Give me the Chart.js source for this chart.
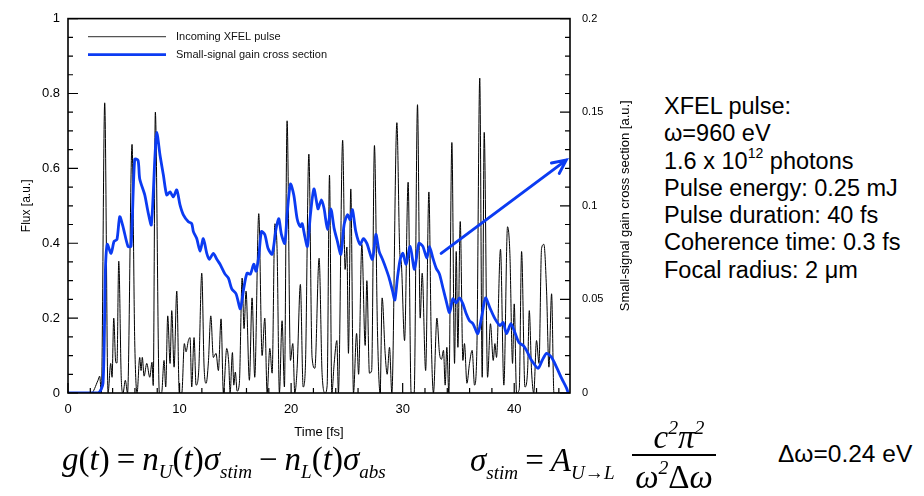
<!DOCTYPE html>
<html>
<head>
<meta charset="utf-8">
<script src="https://cdn.jsdelivr.net/npm/chart.js@4/dist/chart.umd.min.js"></script>
<style>
  body { margin: 0; background: #fff; width: 924px; height: 496px; position: relative; overflow: hidden;
         font-family: "Liberation Sans", Arial, sans-serif; color: #000; }
  #wrap { position: absolute; left: 0; top: 0; width: 650px; height: 445px; }
  .info { position: absolute; left: 664px; top: 93px; font-size: 23.5px; line-height: 27.3px; white-space: nowrap; }
  .info sup { font-size: 0.6em; line-height: 0; position: relative; top: -0.1em; }
  .eq { position: absolute; font-family: "Liberation Serif", "Times New Roman", serif; font-style: italic;
        white-space: nowrap; font-size: 33px; line-height: 33px; }
  .eq .up { font-style: normal; }
  .eq sub { font-size: 0.58em; line-height: 0; vertical-align: -0.4em; }
  .eq sup { font-size: 0.6em; line-height: 0; vertical-align: 0.7em; }
  .eq .op { font-style: normal; margin: 0 7px; }
  .bar { position: absolute; left: 632px; top: 454px; width: 84px; height: 1.6px; background: #000; }
  .dw { position: absolute; left: 778px; top: 440px; font-size: 24.5px; }
</style>
</head>
<body>
<div id="wrap"><canvas id="gainChart"></canvas></div>

<div class="info">
  XFEL pulse:<br>
  ω=960 eV<br>
  1.6 x 10<sup>12</sup> photons<br>
  Pulse energy: 0.25 mJ<br>
  Pulse duration: 40 fs<br>
  Coherence time: 0.3 fs<br>
  Focal radius: 2 μm
</div>

<div class="eq" style="left:62px; top:443px;">g<span class="up">(</span>t<span class="up">)</span><span class="op">=</span>n<sub>U</sub><span class="up">(</span>t<span class="up">)</span>σ<sub>stim</sub><span class="op">−</span>n<sub>L</sub><span class="up">(</span>t<span class="up">)</span>σ<sub>abs</sub></div>

<div class="eq" style="left:470px; top:444px;">σ<sub>stim</sub><span class="op">=</span>A<sub>U<span class="up">→</span>L</sub></div>
<div class="eq" style="left:642px; width:74px; text-align:center; top:421px;">c<sup>2</sup>π<sup>2</sup></div>
<div class="bar"></div>
<div class="eq" style="left:632px; width:84px; text-align:center; top:461px;">ω<sup>2</sup><span class="up">Δ</span>ω</div>

<div class="dw">Δω=0.24 eV</div>

<script>
// incoming pulse: [time fs, flux a.u.]
const pulse = [
  [0, 0], [2.09, 0], [2.69, 0.034], [2.84, 0.045], [2.99, 0], [3.29, 0.775], [3.59, 0],
  [3.83, 0.079], [3.95, 0.042], [4.10, 0.20], [4.28, 0.082], [4.39, 0.08], [4.55, 0.352],
  [4.78, 0.034], [4.93, 0], [5.14, 0.034], [5.34, 0], [5.74, 0.664], [5.98, 0.14], [6.19, 0],
  [6.43, 0.095], [6.55, 0.06], [6.66, 0.095], [6.82, 0.045], [7.06, 0.079], [7.33, 0.042],
  [7.53, 0.082], [7.64, 0.02], [7.83, 0.75], [8.19, 0], [8.39, 0], [8.61, 0.087], [8.76, 0.016],
  [8.94, 0.206], [9.15, 0.079], [9.30, 0.22], [9.51, 0.069], [9.75, 0.272], [9.98, 0], [10.20, 0],
  [10.43, 0.132], [10.58, 0.11], [10.79, 0.14], [10.94, 0.148], [11.09, 0.016], [11.30, 0.148],
  [11.48, 0.021], [11.72, 0.061], [11.99, 0.32], [12.20, 0.069], [12.38, 0.026], [12.58, 0.08],
  [12.80, 0.206], [13.03, 0.095], [13.27, 0.106], [13.48, 0.06], [13.72, 0.198], [13.93, 0],
  [14.23, 0.119], [14.41, 0.08], [14.53, 0], [14.74, 0.108], [14.86, 0.021], [15.00, 0.056],
  [15.16, 0.005], [15.36, 0.026], [15.61, 0.307], [15.78, 0.172], [15.96, 0.272], [16.26, 0.034],
  [16.50, 0.254], [16.74, 0.042], [17.10, 0.479], [17.40, 0.1], [17.64, 0.2], [17.85, 0],
  [18.09, 0.119], [18.30, 0.053], [18.54, 0.452], [18.74, 0.386], [18.95, 0], [19.19, 0.193],
  [19.40, 0.016], [19.64, 0.727], [19.94, 0.087], [20.15, 0.132], [20.33, 0], [20.54, 0.066],
  [20.83, 0.29], [21.08, 0.016], [21.28, 0.069], [21.59, 0.638], [21.88, 0.095], [22.13, 0.066],
  [22.51, 0.36], [22.78, 0.05], [23.05, 0], [23.23, 0.02], [23.44, 0.582], [23.65, 0],
  [23.86, 0.079], [24.10, 0.14], [24.24, 0], [24.62, 0.675], [24.84, 0.33], [25.00, 0.39],
  [25.14, 0.106], [25.35, 0.545], [25.59, 0], [25.87, 0.159], [26.05, 0.05], [26.34, 0.397],
  [26.64, 0.127], [26.79, 0.3], [27.02, 0.053], [27.22, 0.06], [27.47, 0.661], [27.74, 0.167],
  [27.98, 0], [28.16, 0.254], [28.43, 0.106], [28.61, 0.05], [28.82, 0.122], [29.03, 0],
  [29.48, 0.722], [29.75, 0.37], [29.87, 0.35], [30.17, 0.14], [30.49, 0.563], [30.76, 0],
  [31.03, 0], [31.33, 0.77], [31.57, 0.2], [31.75, 0.32], [32.06, 0.06], [32.35, 0.537],
  [32.56, 0.148], [32.76, 0], [33.07, 0.2], [33.30, 0.106], [33.48, 0.09], [33.66, 0.114],
  [33.81, 0.021], [33.96, 0.122], [34.14, 0], [34.41, 0.669], [34.65, 0.079], [34.80, 0.378],
  [34.95, 0.122], [35.16, 0.458], [35.40, 0.087], [35.54, 0.132], [35.76, 0.026], [35.99, 0.079],
  [36.23, 0.114], [36.44, 0.021], [36.65, 0.114], [36.91, 0.841], [37.13, 0.042], [37.31, 0.696],
  [37.61, 0.042], [37.87, 0.185], [38.12, 0.087], [38.27, 0.132], [38.41, 0.095], [38.77, 0.384],
  [39.07, 0.021], [39.40, 0.444], [39.61, 0.373], [39.85, 0.079], [40.00, 0.238], [40.21, 0],
  [40.45, 0.01], [40.66, 0.378], [40.96, 0.016], [41.20, 0.061], [41.35, 0.22], [41.55, 0.061],
  [41.75, 0], [42.00, 0.14], [42.22, 0.079], [42.45, 0.386], [42.66, 0.397], [42.90, 0.272],
  [43.11, 0.069], [43.35, 0.265], [43.56, 0], [45, 0]
];

// small-signal gain cross section: [time fs, sigma a.u.]
const gain = [
  [0, 0], [2.69, 0], [3.14, 0.0053], [3.35, 0.0651], [3.52, 0.0794], [3.86, 0.0746], [4.13, 0.081],
  [4.39, 0.082], [4.64, 0.0942], [4.93, 0.0889], [5.38, 0.0783], [5.65, 0.0783], [5.98, 0.1249],
  [6.28, 0.1243], [6.43, 0.1143], [6.88, 0.1058], [7.17, 0.0968], [7.47, 0.0899], [7.80, 0.127],
  [7.96, 0.1392], [8.25, 0.127], [8.55, 0.1164], [8.85, 0.1058], [9.15, 0.1074], [9.44, 0.1048],
  [9.75, 0.1085], [10.04, 0.1005], [10.34, 0.0952], [10.79, 0.0915], [11.09, 0.0905], [11.24, 0.0862],
  [11.54, 0.0825], [11.84, 0.0757], [12.13, 0.0825], [12.44, 0.0746], [12.67, 0.0714], [13.03, 0.0746],
  [13.34, 0.0714], [13.63, 0.0688], [14.08, 0.0635], [14.38, 0.0614], [14.68, 0.0556], [15.07, 0.0529],
  [15.45, 0.045], [15.76, 0.0561], [16.05, 0.064], [16.35, 0.0635], [16.65, 0.0688], [16.86, 0.0651],
  [17.10, 0.073], [17.34, 0.0862], [17.64, 0.0847], [17.94, 0.0772], [18.30, 0.0741], [18.65, 0.0878],
  [18.90, 0.0931], [19.13, 0.0847], [19.43, 0.0799], [19.64, 0.0952], [19.94, 0.1116], [20.24, 0.1058],
  [20.54, 0.0931], [20.83, 0.0889], [20.99, 0.0905], [21.23, 0.0836], [21.46, 0.0783], [21.73, 0.0952],
  [22.04, 0.109], [22.33, 0.1005], [22.42, 0.0984], [22.72, 0.1032], [22.96, 0.0984], [23.26, 0.0873],
  [23.56, 0.0984], [23.86, 0.0878], [24.15, 0.081], [24.46, 0.0741], [24.75, 0.0899], [25.05, 0.0952],
  [25.29, 0.0926], [25.50, 0.0979], [25.80, 0.0862], [26.19, 0.0794], [26.48, 0.0825], [26.79, 0.0799],
  [27.29, 0.0714], [27.60, 0.0847], [27.89, 0.0757], [28.19, 0.0714], [28.49, 0.0667], [28.79, 0.0614],
  [29.09, 0.0545], [29.30, 0.0497], [29.53, 0.0614], [29.78, 0.0714], [30.02, 0.0746], [30.31, 0.0688],
  [30.67, 0.0783], [31.06, 0.0661], [31.45, 0.0799], [31.81, 0.0783], [32.17, 0.072], [32.40, 0.0783],
  [32.71, 0.072], [33.00, 0.0667], [33.30, 0.0635], [33.61, 0.0561], [33.90, 0.0492], [34.20, 0.0429],
  [34.50, 0.0503], [34.80, 0.0481], [35.09, 0.0508], [35.40, 0.0476], [35.70, 0.0423], [35.99, 0.0386],
  [36.30, 0.037], [36.74, 0.0317], [37.13, 0.0423], [37.43, 0.0508], [37.82, 0.0455], [38.27, 0.0397],
  [38.72, 0.036], [39.01, 0.0376], [39.31, 0.0317], [39.70, 0.037], [40.06, 0.0323], [40.42, 0.027],
  [40.81, 0.0254], [41.10, 0.0228], [41.55, 0.0175], [42.15, 0.0132], [42.51, 0.0175], [42.90, 0.0212],
  [43.35, 0.019], [43.79, 0.0138], [44.24, 0.0079], [44.69, 0.0026], [44.84, 0]
];

const timeTicks = [0, 10, 20, 30, 40];
const seriesNames = ["Incoming XFEL pulse", "Small-signal gain cross section"];
const seriesColors = ["#000000", "#0b3bf2"];
// pointer drawn from the gain trace towards the pulse parameters (time fs, flux a.u.)
const arrowFrom = [33.45, 0.373];
const arrowTo = [44.66, 0.622];

const BLUE = seriesColors[1];
const fmt = v => String(+v.toFixed(2));

// frame, inward tick marks, legend, arrow and right-hand title
const decor = {
  id: "decor",
  afterDatasetsDraw(chart) {
    const {ctx, chartArea: a, scales: {x, y, y2}} = chart;
    ctx.save();
    ctx.strokeStyle = "#000";
    ctx.lineWidth = 1.6;
    ctx.strokeRect(a.left, a.top, a.right - a.left, a.bottom - a.top);

    ctx.lineWidth = 1.2;
    ctx.beginPath();
    for (let i = 0; i <= 20; i++) {
      const py = y.getPixelForValue(i * 0.05);
      const len = i % 4 === 0 ? 10 : 5;
      ctx.moveTo(a.left, py); ctx.lineTo(a.left + len, py);
    }
    for (let i = 0; i <= 20; i++) {
      const py = y2.getPixelForValue(i * 0.01);
      const len = i % 5 === 0 ? 10 : 5;
      ctx.moveTo(a.right, py); ctx.lineTo(a.right - len, py);
    }
    for (let t = 0; t <= 44; t += 2) {
      const px = x.getPixelForValue(t);
      const len = t % 10 === 0 ? 10 : 5;
      ctx.moveTo(px, a.bottom); ctx.lineTo(px, a.bottom - len);
    }
    ctx.stroke();

    // legend
    const lx = a.left + 20, ly = a.top + 18;
    ctx.font = "11px 'Liberation Sans', Arial, sans-serif";
    ctx.textBaseline = "middle";
    ctx.fillStyle = "#111";
    seriesNames.forEach((name, i) => {
      const yy = ly + i * 18;
      ctx.beginPath();
      ctx.strokeStyle = i === 0 ? "#555" : BLUE;
      ctx.lineWidth = i === 0 ? 1.2 : 2.8;
      ctx.moveTo(lx, yy); ctx.lineTo(lx + 78, yy);
      ctx.stroke();
      ctx.fillText(name, lx + 88, yy);
    });

    // arrow
    const x0 = x.getPixelForValue(arrowFrom[0]), y0 = y.getPixelForValue(arrowFrom[1]);
    const x1 = x.getPixelForValue(arrowTo[0]), y1 = y.getPixelForValue(arrowTo[1]);
    const ang = Math.atan2(y1 - y0, x1 - x0);
    ctx.strokeStyle = BLUE;
    ctx.lineWidth = 3;
    ctx.lineCap = "round";
    ctx.beginPath();
    ctx.moveTo(x0, y0); ctx.lineTo(x1, y1);
    ctx.moveTo(x1 - 15 * Math.cos(ang - 0.45), y1 - 15 * Math.sin(ang - 0.45));
    ctx.lineTo(x1, y1);
    ctx.lineTo(x1 - 15 * Math.cos(ang + 0.45), y1 - 15 * Math.sin(ang + 0.45));
    ctx.stroke();

    // right axis title, reading bottom to top
    ctx.fillStyle = "#000";
    ctx.font = "13px 'Liberation Sans', Arial, sans-serif";
    ctx.textAlign = "center";
    ctx.translate(y2.right - 25, (a.top + a.bottom) / 2);
    ctx.rotate(-Math.PI / 2);
    ctx.fillText("Small-signal gain cross section [a.u.]", 0, 0);
    ctx.restore();
  }
};

const tickFont = {family: "'Liberation Sans', Arial, sans-serif", size: 13};

new Chart(document.getElementById("gainChart"), {
  type: "line",
  data: {
    datasets: [{
      label: seriesNames[0],
      data: pulse.map(p => ({x: p[0], y: p[1]})),
      yAxisID: "y",
      borderColor: seriesColors[0],
      borderWidth: 1,
      pointRadius: 0,
      cubicInterpolationMode: "monotone",
      order: 2
    }, {
      label: seriesNames[1],
      data: gain.map(p => ({x: p[0], y: p[1]})),
      yAxisID: "y2",
      borderColor: seriesColors[1],
      borderWidth: 2.8,
      pointRadius: 0,
      tension: 0.25,
      order: 1
    }]
  },
  options: {
    responsive: true,
    maintainAspectRatio: false,
    animation: false,
    layout: {padding: {top: 15, left: 0, right: 0, bottom: 0}},
    plugins: {legend: {display: false}, tooltip: {enabled: false}},
    scales: {
      x: {
        type: "linear", min: 0, max: 45,
        afterBuildTicks: s => { s.ticks = timeTicks.map(v => ({value: v})); },
        afterFit: s => { s.height = 52; },
        grid: {display: false, drawTicks: false},
        border: {display: false},
        ticks: {color: "#000", font: tickFont, padding: 9, maxRotation: 0},
        title: {display: true, text: "Time [fs]", color: "#000", font: tickFont, padding: {top: 0, bottom: 5}}
      },
      y: {
        position: "left", min: 0, max: 1,
        afterFit: s => { s.width = 68; },
        grid: {display: false, drawTicks: false},
        border: {display: false},
        ticks: {stepSize: 0.2, color: "#000", font: tickFont, padding: 8, callback: fmt},
        title: {display: true, text: "Flux [a.u.]", color: "#000", font: {family: tickFont.family, size: 12}, padding: {top: 19, bottom: 0}}
      },
      y2: {
        position: "right", min: 0, max: 0.2,
        afterFit: s => { s.width = 80; },
        grid: {display: false, drawTicks: false},
        border: {display: false},
        ticks: {stepSize: 0.05, color: "#000", font: {family: tickFont.family, size: 11}, padding: 12, callback: fmt}
      }
    }
  },
  plugins: [decor]
});
</script>
</body>
</html>
